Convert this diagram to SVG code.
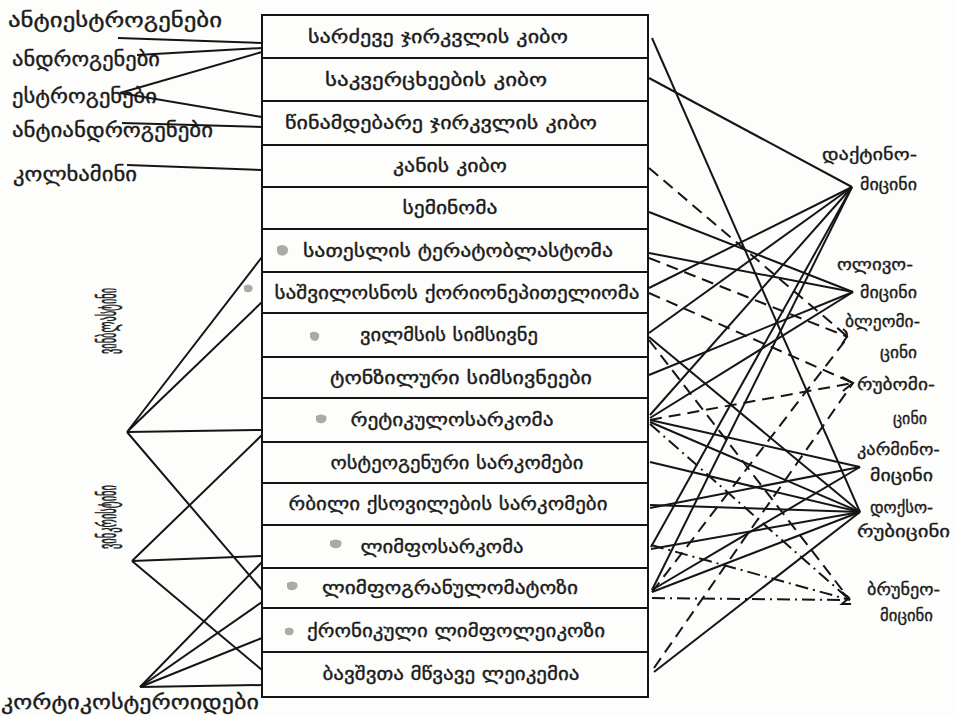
<svg xmlns="http://www.w3.org/2000/svg" width="957" height="716" viewBox="0 0 957 716">
  <defs>
    <style>
      .lbl { font-family: "DejaVu Sans", "Noto Sans", sans-serif; fill: #1b1b1b; stroke: #1b1b1b; stroke-width: 0.35; }
      .row { font-size: 18px; text-anchor: middle; }
      .side { font-size: 19px; }
      .drug { font-size: 17px; }
      .vert { font-size: 26px; text-anchor: middle; stroke-width: 0.6; }
      .frame { fill: none; stroke: #151515; stroke-width: 2; }
      .sep { stroke: #151515; stroke-width: 1.8; }
      .s { stroke: #151515; stroke-width: 2; fill: none; }
      .d { stroke: #151515; stroke-width: 2; fill: none; stroke-dasharray: 12 7; }
      .dd { stroke: #151515; stroke-width: 2; fill: none; stroke-dasharray: 13 5 2 5; }
      .blob { fill: #8d8d8d; opacity: 0.75; }
    </style>
  </defs>
  <rect width="957" height="716" fill="#fdfdfb"/>

  <!-- tumour table -->
  <g id="table">
    <rect class="frame" x="262" y="15" width="386" height="682"/>
    <g class="sep">
      <line x1="262" y1="58" x2="648" y2="58"/>
      <line x1="262" y1="101" x2="648" y2="101"/>
      <line x1="262" y1="145" x2="648" y2="145"/>
      <line x1="262" y1="187" x2="648" y2="187"/>
      <line x1="262" y1="229" x2="648" y2="229"/>
      <line x1="262" y1="272" x2="648" y2="272"/>
      <line x1="262" y1="313" x2="648" y2="313"/>
      <line x1="262" y1="357" x2="648" y2="357"/>
      <line x1="262" y1="398" x2="648" y2="398"/>
      <line x1="262" y1="442" x2="648" y2="442"/>
      <line x1="262" y1="483" x2="648" y2="483"/>
      <line x1="262" y1="525" x2="648" y2="525"/>
      <line x1="262" y1="568" x2="648" y2="568"/>
      <line x1="262" y1="608" x2="648" y2="608"/>
      <line x1="262" y1="652" x2="648" y2="652"/>
    </g>
  </g>

  <g id="row-01"><text class="lbl row" x="438" y="43" textLength="260" lengthAdjust="spacingAndGlyphs">სარძევე  ჯირკვლის  კიბო</text></g>
  <g id="row-02"><text class="lbl row" x="436" y="86" textLength="222" lengthAdjust="spacingAndGlyphs">საკვერცხეების  კიბო</text></g>
  <g id="row-03"><text class="lbl row" x="441" y="129" textLength="312" lengthAdjust="spacingAndGlyphs">წინამდებარე  ჯირკვლის  კიბო</text></g>
  <g id="row-04"><text class="lbl row" x="450" y="172" textLength="114" lengthAdjust="spacingAndGlyphs">კანის  კიბო</text></g>
  <g id="row-05"><text class="lbl row" x="450" y="214" textLength="95" lengthAdjust="spacingAndGlyphs">სემინომა</text></g>
  <g id="row-06"><text class="lbl row" x="458" y="257" textLength="310" lengthAdjust="spacingAndGlyphs">სათესლის  ტერატობლასტომა</text><path class="blob" d="M277 247 q5 -4 10 0 q3 5 -2 8 q-6 2 -8 -3z"/></g>
  <g id="row-07"><text class="lbl row" x="457" y="299" textLength="365" lengthAdjust="spacingAndGlyphs">საშვილოსნოს  ქორიონეპითელიომა</text><path class="blob" d="M244 286 q4 -3 8 0 q2 4 -2 6 q-5 1 -6 -2z"/></g>
  <g id="row-08"><text class="lbl row" x="449" y="341" textLength="178" lengthAdjust="spacingAndGlyphs">ვილმსის  სიმსივნე</text><path class="blob" d="M310 333 q5 -3 9 1 q1 5 -3 7 q-5 0 -6 -4z"/></g>
  <g id="row-09"><text class="lbl row" x="461" y="384" textLength="262" lengthAdjust="spacingAndGlyphs">ტონზილური  სიმსივნეები</text></g>
  <g id="row-10"><text class="lbl row" x="452" y="426" textLength="203" lengthAdjust="spacingAndGlyphs">რეტიკულოსარკომა</text><path class="blob" d="M316 416 q5 -3 10 0 q2 5 -3 7 q-6 1 -7 -3z"/></g>
  <g id="row-11"><text class="lbl row" x="457" y="469" textLength="253" lengthAdjust="spacingAndGlyphs">ოსტეოგენური  სარკომები</text></g>
  <g id="row-12"><text class="lbl row" x="448" y="510" textLength="319" lengthAdjust="spacingAndGlyphs">რბილი  ქსოვილების  სარკომები</text></g>
  <g id="row-13"><text class="lbl row" x="442" y="553" textLength="163" lengthAdjust="spacingAndGlyphs">ლიმფოსარკომა</text><path class="blob" d="M330 541 q6 -3 11 0 q2 5 -3 7 q-6 1 -8 -3z"/></g>
  <g id="row-14"><text class="lbl row" x="450" y="594" textLength="256" lengthAdjust="spacingAndGlyphs">ლიმფოგრანულომატოზი</text><path class="blob" d="M287 583 q5 -3 10 0 q2 5 -3 7 q-6 1 -7 -3z"/></g>
  <g id="row-15"><text class="lbl row" x="456" y="637" textLength="298" lengthAdjust="spacingAndGlyphs">ქრონიკული  ლიმფოლეიკოზი</text><path class="blob" d="M285 629 q4 -3 8 0 q2 4 -2 6 q-5 1 -6 -2z"/></g>
  <g id="row-16"><text class="lbl row" x="451" y="680" textLength="257" lengthAdjust="spacingAndGlyphs">ბავშვთა  მწვავე  ლეიკემია</text></g>

  <!-- hormone and alkaloid agents on the left -->
  <g id="antiestrogens"><text class="lbl side" x="8" y="27" textLength="214" lengthAdjust="spacingAndGlyphs">ანტიესტროგენები</text></g>
  <g id="androgens"><text class="lbl side" x="12" y="66" textLength="148" lengthAdjust="spacingAndGlyphs">ანდროგენები</text></g>
  <g id="estrogens"><text class="lbl side" x="12" y="103" textLength="145" lengthAdjust="spacingAndGlyphs">ესტროგენები</text></g>
  <g id="antiandrogens"><text class="lbl side" x="12" y="137" textLength="201" lengthAdjust="spacingAndGlyphs">ანტიანდროგენები</text></g>
  <g id="colchamine"><text class="lbl side" x="13" y="181" textLength="124" lengthAdjust="spacingAndGlyphs">კოლხამინი</text></g>
  <g id="vinblastine"><text class="lbl vert" transform="translate(116 321) rotate(-90)" textLength="66" lengthAdjust="spacingAndGlyphs">ვინბლასტინი</text></g>
  <g id="vincristine"><text class="lbl vert" transform="translate(116 517) rotate(-90)" textLength="64" lengthAdjust="spacingAndGlyphs">ვინკრისტინი</text></g>
  <g id="corticosteroids"><text class="lbl side" x="1" y="709" textLength="258" lengthAdjust="spacingAndGlyphs">კორტიკოსტეროიდები</text></g>

  <!-- antibiotics on the right -->
  <g id="dactinomycin"><text class="lbl drug" x="822" y="160" textLength="95" lengthAdjust="spacingAndGlyphs">დაქტინო-</text><text class="lbl drug" x="860" y="190" textLength="57" lengthAdjust="spacingAndGlyphs">მიცინი</text></g>
  <g id="olivomycin"><text class="lbl drug" x="837" y="270" textLength="76" lengthAdjust="spacingAndGlyphs">ოლივო-</text><text class="lbl drug" x="860" y="298" textLength="57" lengthAdjust="spacingAndGlyphs">მიცინი</text></g>
  <g id="bleomycin"><text class="lbl drug" x="845" y="327" textLength="75" lengthAdjust="spacingAndGlyphs">ბლეომი-</text><text class="lbl drug" x="880" y="358" textLength="37" lengthAdjust="spacingAndGlyphs">ცინი</text></g>
  <g id="rubomycin"><text class="lbl drug" x="857" y="390" textLength="78" lengthAdjust="spacingAndGlyphs">რუბომი-</text><text class="lbl drug" x="893" y="424" textLength="34" lengthAdjust="spacingAndGlyphs">ცინი</text></g>
  <g id="carminomycin"><text class="lbl drug" x="857" y="455" textLength="83" lengthAdjust="spacingAndGlyphs">კარმინო-</text><text class="lbl drug" x="870" y="481" textLength="63" lengthAdjust="spacingAndGlyphs">მიცინი</text></g>
  <g id="doxorubicin"><text class="lbl drug" x="870" y="513" textLength="63" lengthAdjust="spacingAndGlyphs">დოქსო-</text><text class="lbl drug" x="857" y="537" textLength="93" lengthAdjust="spacingAndGlyphs">რუბიცინი</text></g>
  <g id="bruneomycin"><text class="lbl drug" x="867" y="595" textLength="73" lengthAdjust="spacingAndGlyphs">ბრუნეო-</text><text class="lbl drug" x="880" y="621" textLength="53" lengthAdjust="spacingAndGlyphs">მიცინი</text></g>

  <g id="connectors">
    <!-- left side -->
    <g class="s">
      <line x1="118" y1="38" x2="262" y2="43"/>
      <line x1="137" y1="55" x2="262" y2="48"/>
      <line x1="120" y1="93" x2="262" y2="52"/>
      <line x1="120" y1="93" x2="262" y2="117"/>
      <line x1="122" y1="123" x2="262" y2="127"/>
      <line x1="127" y1="165" x2="262" y2="170"/>
      <polyline points="262,257 127,432 262,302"/>
      <line x1="127" y1="432" x2="262" y2="430"/>
      <line x1="127" y1="432" x2="262" y2="590"/>
      <line x1="132" y1="561" x2="262" y2="435"/>
      <line x1="132" y1="561" x2="262" y2="556"/>
      <line x1="132" y1="561" x2="262" y2="670"/>
      <line x1="140" y1="687" x2="262" y2="562"/>
      <line x1="140" y1="687" x2="262" y2="602"/>
      <line x1="140" y1="687" x2="262" y2="638"/>
      <line x1="140" y1="687" x2="262" y2="685"/>
    </g>
    <!-- right side, solid -->
    <g class="s">
      <line x1="652" y1="38" x2="860" y2="512"/>
      <line x1="649" y1="78" x2="852" y2="187"/>
      <line x1="649" y1="212" x2="853" y2="292"/>
      <line x1="649" y1="253" x2="853" y2="292"/>
      <line x1="649" y1="288" x2="852" y2="187"/>
      <line x1="649" y1="333" x2="852" y2="187"/>
      <line x1="649" y1="337" x2="860" y2="512"/>
      <line x1="649" y1="375" x2="853" y2="292"/>
      <line x1="650" y1="415" x2="852" y2="187"/>
      <line x1="650" y1="418" x2="853" y2="292"/>
      <line x1="650" y1="420" x2="860" y2="467"/>
      <line x1="650" y1="422" x2="860" y2="512"/>
      <line x1="650" y1="462" x2="860" y2="512"/>
      <line x1="650" y1="505" x2="860" y2="512"/>
      <line x1="650" y1="508" x2="860" y2="467"/>
      <line x1="651" y1="547" x2="852" y2="187"/>
      <line x1="651" y1="549" x2="860" y2="512"/>
      <line x1="652" y1="590" x2="852" y2="187"/>
      <line x1="652" y1="592" x2="860" y2="512"/>
      <line x1="652" y1="590" x2="860" y2="467"/>
      <line x1="654" y1="672" x2="860" y2="512"/>
    </g>
    <!-- right side, dashed -->
    <g class="d">
      <line x1="649" y1="168" x2="848" y2="337"/>
      <line x1="649" y1="258" x2="848" y2="337"/>
      <line x1="649" y1="293" x2="853" y2="383"/>
      <line x1="650" y1="420" x2="853" y2="383"/>
      <line x1="652" y1="592" x2="848" y2="337"/>
      <line x1="654" y1="668" x2="853" y2="383"/>
      <line x1="649" y1="340" x2="850" y2="600"/>
    </g>
    <!-- right side, dash-dot -->
    <g class="dd">
      <line x1="650" y1="424" x2="850" y2="600"/>
      <line x1="651" y1="545" x2="850" y2="600"/>
      <line x1="652" y1="598" x2="850" y2="600"/>
    </g>
    <!-- hand-drawn arrow ticks at the antibiotic ends -->
    <g class="s">
      <polyline points="842,377 853,383 843,391"/>
      <path d="M843 329 q6 4 3 9 l-4 6"/>
      <polyline points="842,592 849,598 842,604 851,604"/>
    </g>
  </g>
</svg>
